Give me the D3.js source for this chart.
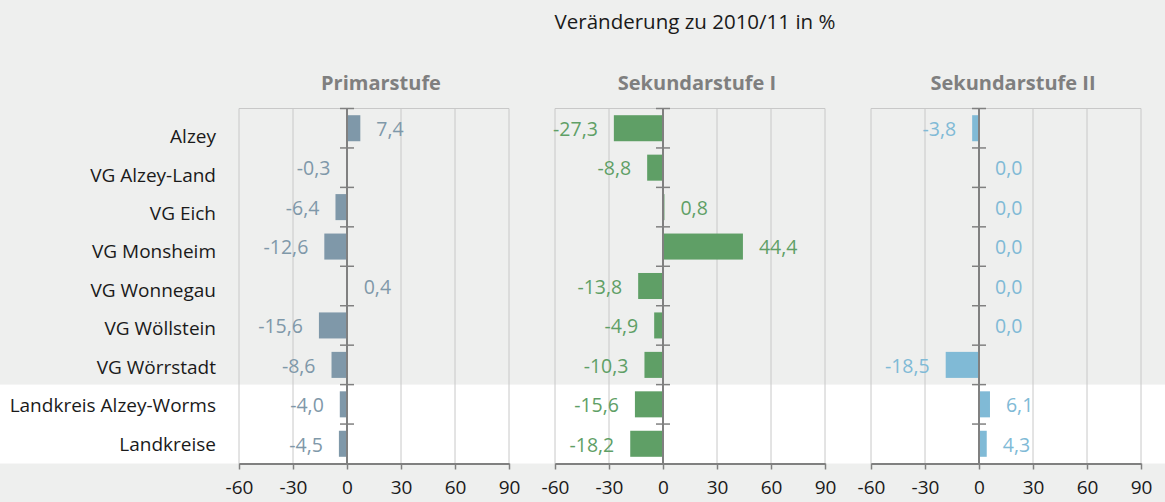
<!DOCTYPE html>
<html>
<head>
<meta charset="utf-8">
<script src="https://cdn.jsdelivr.net/npm/d3@7"></script>
<style>
  body { margin: 0; background: #eeefee; }
  text { font-family: "Open Sans", sans-serif; }
</style>
</head>
<body>
<div id="chart"></div>
<script>
const categories = ['Alzey', 'VG Alzey-Land', 'VG Eich', 'VG Monsheim', 'VG Wonnegau',
  'VG Wöllstein', 'VG Wörrstadt', 'Landkreis Alzey-Worms', 'Landkreise'];
const primarstufe = [7.4, -0.3, -6.4, -12.6, 0.4, -15.6, -8.6, -4.0, -4.5];
const sekundarstufeI = [-27.3, -8.8, 0.8, 44.4, -13.8, -4.9, -10.3, -15.6, -18.2];
const sekundarstufeII = [-3.8, 0.0, 0.0, 0.0, 0.0, 0.0, -18.5, 6.1, 4.3];
const panelTitles = ['Primarstufe', 'Sekundarstufe I', 'Sekundarstufe II'];
const xTicks = [-60, -30, 0, 30, 60, 90];
const title = 'Veränderung zu 2010/11 in %';

let svgWidth = 1165, svgHeight = 502,
  plotTop = 108.5, plotBottom = 463.5,
  panelLeft = 239, panelWidth = 270, panelStep = 316,
  labelRight = 216,
  labelOffset = 16;

const panels = [
  { title: panelTitles[0], values: primarstufe, color: '#7f98a9' },
  { title: panelTitles[1], values: sekundarstufeI, color: '#5f9f66' },
  { title: panelTitles[2], values: sekundarstufeII, color: '#80bad6' }
];

const fmt = v => v.toFixed(1).replace('.', ',');

const svg = d3.select('#chart')
  .append('svg')
  .attr('width', svgWidth)
  .attr('height', svgHeight);

// background
svg.append('rect')
  .attr('width', svgWidth)
  .attr('height', svgHeight)
  .attr('fill', '#eeefee');

const y = d3.scaleBand()
  .domain(categories)
  .range([plotTop, plotBottom])
  .paddingInner(0.34)
  .paddingOuter(0.17);

// row slots (for white band + category ticks)
const ySlot = d3.scaleBand()
  .domain(categories)
  .range([plotTop, plotBottom]);

// white band behind the last two rows
svg.append('rect')
  .attr('x', 0)
  .attr('y', ySlot('Landkreis Alzey-Worms'))
  .attr('width', svgWidth)
  .attr('height', plotBottom - ySlot('Landkreis Alzey-Worms'))
  .attr('fill', '#ffffff');

// main title
svg.append('text')
  .attr('x', 695)
  .attr('y', 29)
  .attr('text-anchor', 'middle')
  .attr('font-size', 20.5)
  .attr('fill', '#1a1a1a')
  .text(title);

// category labels
const yLabel = d3.scalePoint()
  .domain(categories)
  .range([136.5, 444]);

svg.selectAll('.cat-label')
  .data(categories)
  .enter()
  .append('text')
  .attr('class', 'cat-label')
  .attr('x', labelRight)
  .attr('y', d => yLabel(d))
  .attr('dy', '0.35em')
  .attr('text-anchor', 'end')
  .attr('font-size', 19)
  .attr('fill', '#1a1a1a')
  .text(d => d);

panels.forEach((p, k) => {
  const x0 = panelLeft + panelStep * k;
  const x = d3.scaleLinear().domain([-60, 90]).range([x0, x0 + panelWidth]);
  const g = svg.append('g');

  // panel title
  g.append('text')
    .attr('x', x(15) + 7)
    .attr('y', 90)
    .attr('text-anchor', 'middle')
    .attr('font-size', 20)
    .attr('font-weight', 'bold')
    .attr('fill', '#7f7f7f')
    .text(p.title);

  // top border
  g.append('line')
    .attr('x1', x(-60))
    .attr('x2', x(90))
    .attr('y1', plotTop)
    .attr('y2', plotTop)
    .attr('stroke', '#c8c8c8')
    .attr('stroke-width', 1);

  // vertical grid
  g.selectAll('.grid')
    .data(xTicks.filter(t => t !== 0))
    .enter()
    .append('line')
    .attr('x1', d => x(d))
    .attr('x2', d => x(d))
    .attr('y1', plotTop)
    .attr('y2', plotBottom)
    .attr('stroke', '#c8c8c8')
    .attr('stroke-width', 1);

  // bars
  g.selectAll('.bar')
    .data(p.values)
    .enter()
    .append('rect')
    .attr('x', d => x(Math.min(0, d)))
    .attr('y', (d, i) => y(categories[i]))
    .attr('width', d => Math.abs(x(d) - x(0)))
    .attr('height', y.bandwidth())
    .attr('fill', p.color);

  // value labels
  g.selectAll('.value')
    .data(p.values)
    .enter()
    .append('text')
    .attr('x', d => d < 0 ? x(d) - labelOffset : x(d) + labelOffset)
    .attr('y', (d, i) => y(categories[i]) + y.bandwidth() / 2 + 1)
    .attr('dy', '0.35em')
    .attr('text-anchor', d => d < 0 ? 'end' : 'start')
    .attr('font-size', 19.5)
    .attr('fill', p.color)
    .text(d => fmt(d));

  // category axis at zero
  g.append('line')
    .attr('x1', x(0))
    .attr('x2', x(0))
    .attr('y1', plotTop)
    .attr('y2', plotBottom)
    .attr('stroke', '#808080')
    .attr('stroke-width', 2);

  g.selectAll('.cat-tick')
    .data(categories)
    .enter()
    .append('line')
    .attr('x1', x(0) - 7)
    .attr('x2', x(0) + 7)
    .attr('y1', d => ySlot(d))
    .attr('y2', d => ySlot(d))
    .attr('stroke', '#808080')
    .attr('stroke-width', 1.5);

  // x axis
  const axis = g.append('g')
    .attr('transform', `translate(0, ${plotBottom})`)
    .call(d3.axisBottom(x).tickValues(xTicks).tickSize(6).tickSizeOuter(0).tickPadding(11)
      .tickFormat(d => String(d)));
  axis.select('.domain').attr('stroke', '#808080').attr('stroke-width', 2);
  axis.selectAll('.tick line').attr('stroke', '#808080').attr('stroke-width', 1.5);
  axis.selectAll('.tick text')
    .attr('font-family', '"Open Sans", sans-serif')
    .attr('font-size', 19)
    .attr('fill', '#1a1a1a');
});
</script>
</body>
</html>
